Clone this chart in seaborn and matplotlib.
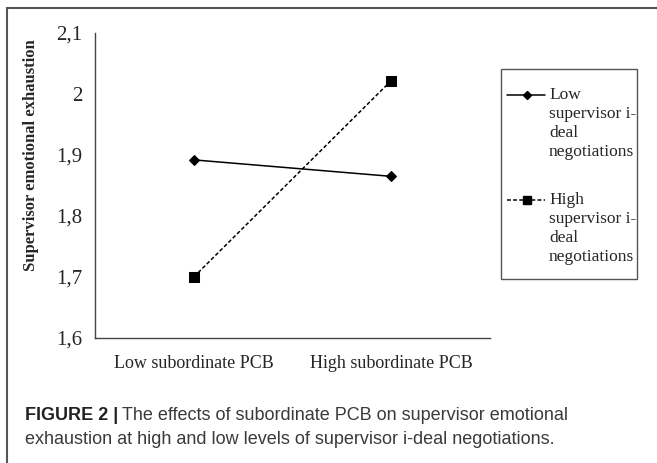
import numpy as np
import pandas as pd
import matplotlib
matplotlib.use("Agg")
import matplotlib.pyplot as plt
import seaborn as sns
from matplotlib.patches import Rectangle
from matplotlib.lines import Line2D

# data
categories = ["Low subordinate PCB", "High subordinate PCB"]
low_ideal = [1.892, 1.865]
high_ideal = [1.700, 2.022]
series_names = ["Low\nsupervisor i-\ndeal\nnegotiations",
                "High\nsupervisor i-\ndeal\nnegotiations"]
y_ticks = [1.6, 1.7, 1.8, 1.9, 2.0, 2.1]
y_ticklabels = ["1,6", "1,7", "1,8", "1,9", "2", "2,1"]

df = pd.DataFrame({
    "pos": [0, 1, 0, 1],
    "value": low_ideal + high_ideal,
    "series": [series_names[0]] * 2 + [series_names[1]] * 2,
})

sns.set_style("white")
plt.rcParams["font.family"] = ["Liberation Serif", "DejaVu Serif"]

W, H = 657, 463
fig = plt.figure(figsize=(W / 100, H / 100), dpi=100)
ax = fig.add_axes([95 / W, 1 - 338 / H, (490 - 95) / W, (338 - 33) / H])

# line style, marker, marker size
styles = [("-", "D", 5.5), ((0, (2.5, 1.5)), "s", 7)]
for name, (ls, mk, ms) in zip(series_names, styles):
    sub = df[df["series"] == name]
    sns.lineplot(data=sub, x="pos", y="value", ax=ax, color="black",
                 linestyle=ls, marker=mk, markersize=ms, linewidth=1.1,
                 markeredgecolor="black", legend=False)

ax.set_xlim(-0.5, 1.5)
ax.set_ylim(1.6, 2.1)
ax.set_yticks(y_ticks)
ax.set_yticklabels(y_ticklabels, fontsize=15)
ax.set_xticks([-0.5, 0.5, 1.5])
ax.set_xticklabels([])
ax.set_xticks([0, 1], minor=True)
ax.set_xticklabels(categories, minor=True, fontsize=13)
ax.tick_params(axis="x", which="minor", length=0, pad=12)
ax.tick_params(axis="x", which="major", length=5, direction="out", color="#555")
ax.tick_params(axis="y", length=6, direction="out", color="#444", pad=3)
ax.set_xlabel("")
ax.set_ylabel("Supervisor emotional exhaustion", fontsize=12, fontweight="bold")
ax.yaxis.set_label_coords((39 - 95) / 395, (338 - 155) / 305)
for side in ["top", "right"]:
    ax.spines[side].set_visible(False)
for side in ["left", "bottom"]:
    ax.spines[side].set_color("#444")
    ax.spines[side].set_linewidth(1)

# legend box, drawn by hand to keep the Excel look
def fx(px):
    return px / W


def fy(py):
    return 1 - py / H


fig.patches.append(Rectangle((fx(501), fy(279)), fx(637) - fx(501), fy(69) - fy(279),
                             transform=fig.transFigure, fill=False, edgecolor="#555", linewidth=1))
entry_top = [95, 200]
for name, (ls, mk, ms), y0 in zip(series_names, styles, entry_top):
    fig.lines.append(Line2D([fx(507), fx(545)], [fy(y0), fy(y0)], transform=fig.transFigure,
                            color="black", linestyle=ls, linewidth=1.1))
    fig.lines.append(Line2D([fx(527)], [fy(y0)], transform=fig.transFigure, color="black",
                            marker=mk, markersize=ms * 0.8, linestyle="none"))
    for i, line in enumerate(name.split("\n")):
        fig.text(fx(549), fy(y0 + 19 * i), line, fontsize=12.5, va="center", ha="left")

# outer frame
fig.patches.append(Rectangle((fx(7), -0.1), 1.2, 1.1 - 8 / H, transform=fig.transFigure,
                             fill=False, edgecolor="#555", linewidth=1.5))

# caption
cap_font = ["Liberation Sans", "DejaVu Sans"]
t1 = fig.text(fx(25), fy(416), "FIGURE 2 |", family=cap_font, fontsize=13,
              fontweight="bold", va="center", color="#222")
fig.canvas.draw()
bb = t1.get_window_extent()
fig.text((bb.x1 + 4) / fig.bbox.width, fy(416), "The effects of subordinate PCB on supervisor emotional",
         family=cap_font, fontsize=13, va="center", color="#3a3a3a")
fig.text(fx(25), fy(440), "exhaustion at high and low levels of supervisor i-deal negotiations.",
         family=cap_font, fontsize=13, va="center", color="#3a3a3a")

fig.savefig("out.png", dpi=100)
